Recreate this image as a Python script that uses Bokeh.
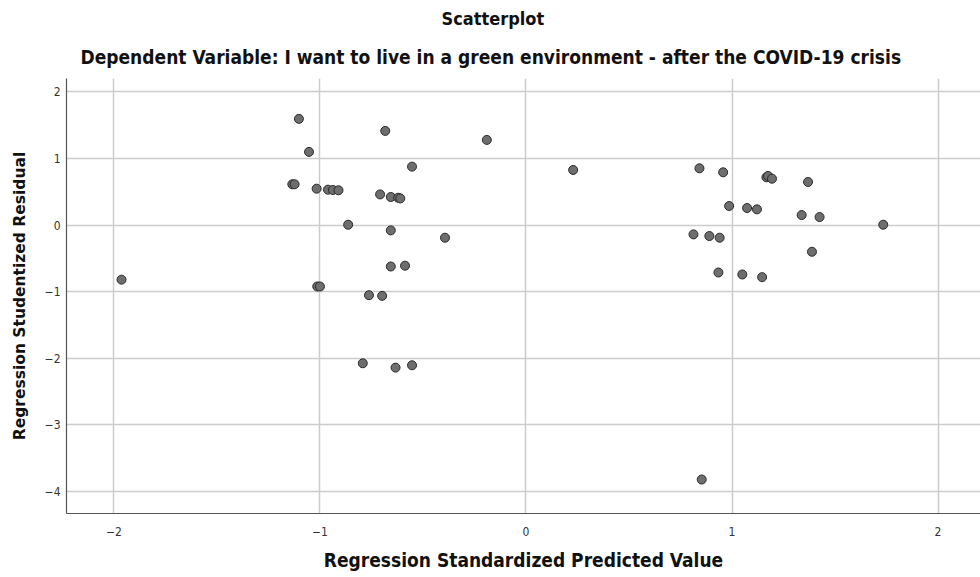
from bokeh.plotting import figure
from bokeh.models import Range1d, FixedTicker, Title, ColumnDataSource
from bokeh.embed import file_html
from bokeh.resources import INLINE

predicted = [-1.963, -1.102, -1.053, -1.134, -1.123, -1.016, -0.961, -0.937, -0.910,
             -0.863, -1.013, -1.000, -0.762, -0.698, -0.683, -0.190, -0.553, -0.708,
             -0.656, -0.620, -0.610, -0.656, -0.393, -0.656, -0.587, -0.792, -0.633,
             -0.553,
             0.229, 0.842, 0.957, 1.167, 1.175, 1.194, 1.369, 0.986, 1.073, 1.121,
             1.338, 1.425, 1.734, 0.813, 0.890, 0.940, 1.388, 0.934, 1.050, 1.146,
             0.853]
residual = [-0.82, 1.594, 1.098, 0.612, 0.612, 0.546, 0.531, 0.526, 0.522,
            0.005, -0.922, -0.922, -1.053, -1.063, 1.413, 1.278, 0.877, 0.46,
            0.421, 0.41, 0.40, -0.08, -0.19, -0.622, -0.61, -2.075, -2.14,
            -2.105,
            0.827, 0.852, 0.792, 0.717, 0.737, 0.696, 0.647, 0.286, 0.256, 0.236,
            0.15, 0.12, 0.005, -0.14, -0.165, -0.19, -0.401, -0.712, -0.742, -0.782,
            -3.82]
x_ticks = [-2, -1, 0, 1, 2]
y_ticks = [-4, -3, -2, -1, 0, 1, 2]

title_text = "Scatterplot"
subtitle_text = "Dependent Variable: I want to live in a green environment - after the COVID-19 crisis"
x_label = "Regression Standardized Predicted Value"
y_label = "Regression Studentized Residual"

COND = "DejaVu Sans Condensed"

p = figure(width=980, height=577, output_backend="svg", toolbar_location=None,
           title=None,
           x_range=Range1d(-2.23, 2.206), y_range=Range1d(-4.33, 2.2),
           min_border_left=66, min_border_right=0, min_border_bottom=64, min_border_top=78)

p.add_layout(Title(text=subtitle_text, align="left", offset=14,
                   text_font=COND, text_font_size="19px", text_font_style="bold",
                   text_color="#111111", standoff=22), "above")
p.add_layout(Title(text=title_text, align="left", offset=375,
                   text_font=COND, text_font_size="18px", text_font_style="bold",
                   text_color="#111111", standoff=8), "above")

src = ColumnDataSource(dict(x=predicted, y=residual))
p.scatter("x", "y", source=src, size=9, fill_color="#6e6e6e", line_color="#2a2a2a",
          line_width=1)

p.outline_line_color = None
p.background_fill_color = "white"
p.border_fill_color = "white"

for ax in (p.xaxis[0], p.yaxis[0]):
    ax.major_tick_line_color = None
    ax.minor_tick_line_color = None
    ax.axis_line_color = "#555555"
    ax.axis_line_width = 1.2
    ax.major_label_text_font = COND
    ax.major_label_text_font_size = "12px"
    ax.major_label_text_color = "#333333"

p.xaxis.ticker = FixedTicker(ticks=x_ticks)
p.yaxis.ticker = FixedTicker(ticks=y_ticks)
p.xaxis.major_label_standoff = 7
p.yaxis.major_label_standoff = 0

p.xaxis.axis_label = x_label
p.xaxis.axis_label_text_font = COND
p.xaxis.axis_label_text_font_size = "19px"
p.xaxis.axis_label_text_font_style = "bold"
p.xaxis.axis_label_text_color = "#111111"
p.xaxis.axis_label_standoff = 10

p.yaxis.axis_label = y_label
p.yaxis.axis_label_text_font = "DejaVu Sans"
p.yaxis.axis_label_text_font_size = "15.5px"
p.yaxis.axis_label_text_font_style = "bold"
p.yaxis.axis_label_text_color = "#111111"
p.yaxis.axis_label_standoff = 13

p.xgrid.ticker = FixedTicker(ticks=x_ticks)
p.ygrid.ticker = FixedTicker(ticks=y_ticks)
for g in (p.xgrid[0], p.ygrid[0]):
    g.grid_line_color = "#cccccc"
    g.grid_line_width = 1.5

open("out.html", "w").write(file_html(p, INLINE))
